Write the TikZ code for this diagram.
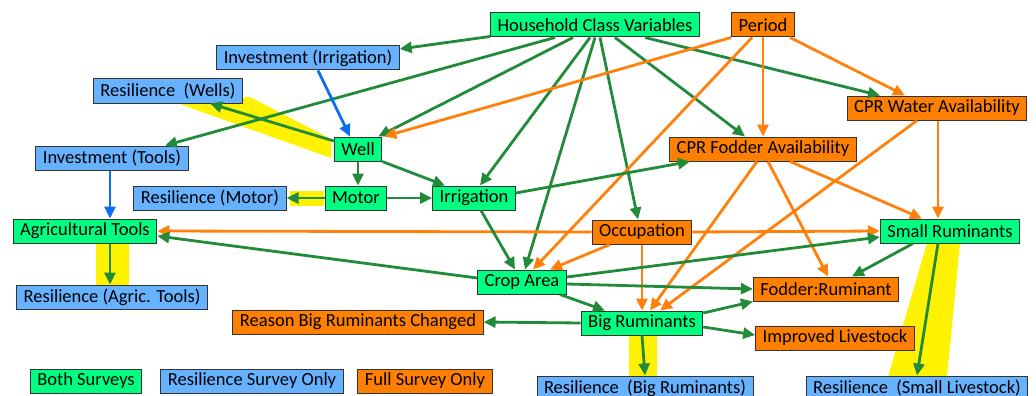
\documentclass[tikz,border=0pt]{standalone}
\usepackage{fontspec}
\setmainfont{Carlito}
\usetikzlibrary{arrows.meta, positioning}
\definecolor{boxgreen}{RGB}{0,255,128}
\definecolor{boxblue}{RGB}{102,178,255}
\definecolor{boxorange}{RGB}{255,128,0}
\definecolor{arrowgreen}{RGB}{34,139,58}
\definecolor{arrowblue}{RGB}{10,110,240}
\definecolor{arroworange}{RGB}{255,128,10}
\definecolor{marker}{RGB}{255,242,0}

\begin{document}
\begin{tikzpicture}[x=1pt, y=-1pt, font=\fontsize{18.5}{20}\selectfont]
	\tikzstyle{bothbox} = [rectangle, minimum height=24pt, inner xsep=7pt, 
	inner ysep=0pt, text centered, draw=black!80, line width=1pt, fill=boxgreen]
	\tikzstyle{resbox} = [rectangle, minimum height=24pt, inner xsep=7pt, 
	inner ysep=0pt, text centered, draw=black!80, line width=1pt, fill=boxblue]
	\tikzstyle{fullbox} = [rectangle, minimum height=24pt, inner xsep=7pt, 
	inner ysep=0pt, text centered, draw=black!80, line width=1pt, fill=boxorange]
	\tikzstyle{greenarrow} = [line width=2.8pt, draw=arrowgreen, 
	-{Triangle[length=12pt, width=11pt]}]
	\tikzstyle{orangearrow} = [line width=2.8pt, draw=arroworange, 
	-{Triangle[length=12pt, width=11pt]}]
	\tikzstyle{bluearrow} = [line width=2.8pt, draw=arrowblue, 
	-{Triangle[length=12pt, width=11pt]}]
	\useasboundingbox (0,0) rectangle (1036,396);
	\fill [marker] (177,103) -- (250,97) -- (331,139) -- (331,158) -- cycle;
	\fill [marker] (290,191) rectangle (324,206);
	\fill [marker] (96,243) rectangle (129,286);
	\fill [marker] (629,335) rectangle (657,377);
	\fill [marker] (927,243) -- (960,243) -- (947,377) -- (888,377) -- cycle;
	\node (household) [bothbox] at (595,25) {Household Class Variables};
	\node (period) [fullbox] at (763,25) {Period};
	\node (invIrrigation) [resbox] at (308,58) {Investment (Irrigation)};
	\node (resWells) [resbox] at (168,91) {Resilience\ \ (Wells)};
	\node (cprWater) [fullbox] at (937,108) {CPR Water Availability};
	\node (well) [bothbox] at (358,149) {Well};
	\node (invTools) [resbox] at (112,158) {Investment (Tools)};
	\node (cprFodder) [fullbox] at (763,149) {CPR Fodder Availability};
	\node (resMotor) [resbox] at (210,198) {Resilience (Motor)};
	\node (motor) [bothbox] at (356,198) {Motor};
	\node (irrigation) [bothbox] at (474,198) {Irrigation};
	\node (agTools) [bothbox] at (85,231) {Agricultural Tools};
	\node (occupation) [fullbox] at (642,232) {Occupation};
	\node (smallRum) [bothbox] at (950,231) {Small Ruminants};
	\node (cropArea) [bothbox] at (522,282) {Crop Area};
	\node (resAgTools) [resbox] at (112,297) {Resilience (Agric. Tools)};
	\node (fodderRum) [fullbox] at (826,289) {Fodder:Ruminant};
	\node (reasonBig) [fullbox] at (358,322) {Reason Big Ruminants Changed};
	\node (bigRum) [bothbox] at (642,323) {Big Ruminants};
	\node (improved) [fullbox] at (835,338) {Improved Livestock};
	\node (resBigRum) [resbox] at (645,388) {Resilience\ \ (Big Ruminants)};
	\node (resSmall) [resbox] at (917,388) {Resilience\ \ (Small Livestock)};
	\node (legendBoth) [bothbox] at (86,381) {Both Surveys};
	\node (legendRes) [resbox] at (252,381) {Resilience Survey Only};
	\node (legendFull) [fullbox] at (425,381) {Full Survey Only};
	\draw [greenarrow] ([yshift=1]household.south west) -- ([yshift=9]invIrrigation.east);
	\draw [greenarrow] ([xshift=-40]household.south) -- ([xshift=53]invTools.north);
	\draw [greenarrow] ([xshift=-22]household.south) -- ([xshift=-4]well.north east);
	\draw [greenarrow] ([xshift=-5]household.south) -- ([xshift=6]irrigation.north);
	\draw [greenarrow] (household.south) -- ([xshift=3]cropArea.north);
	\draw [greenarrow] ([xshift=5]household.south) -- ([xshift=-4]occupation.north);
	\draw [greenarrow] ([xshift=20]household.south) -- ([xshift=-18]cprFodder.north);
	\draw [greenarrow] ([xshift=50]household.south) -- ([xshift=-57]cprWater.north);
	\draw [orangearrow] (period.south west) -- ([xshift=2]well.north east);
	\draw [orangearrow] ([xshift=-11]period.south) -- ([xshift=11]cropArea.north);
	\draw [orangearrow] (period.south) -- (cprFodder.north);
	\draw [orangearrow] ([xshift=27]period.south) -- ([xshift=-32]cprWater.north);
	\draw [orangearrow] ([xshift=-20]cprWater.south) -- ([xshift=18]bigRum.north);
	\draw [orangearrow] ([xshift=1]cprWater.south) -- ([xshift=-12]smallRum.north);
	\draw [orangearrow] ([xshift=-6]cprFodder.south) -- ([xshift=8]bigRum.north);
	\draw [orangearrow] ([xshift=5]cprFodder.south) -- ([xshift=2]fodderRum.north);
	\draw [orangearrow] ([xshift=27]cprFodder.south) -- ([xshift=-28]smallRum.north);
	\draw [orangearrow] (occupation.west) -- (agTools.east);
	\draw [orangearrow] (occupation.east) -- (smallRum.west);
	\draw [orangearrow] ([xshift=-32]occupation.south) -- ([xshift=28]cropArea.north);
	\draw [orangearrow] (occupation.south) -- (bigRum.north);
	\draw [bluearrow] ([xshift=10]invIrrigation.south) -- ([xshift=-8]well.north);
	\draw [bluearrow] ([xshift=-2]invTools.south) -- ([xshift=25]agTools.north);
	\draw [greenarrow] ([yshift=8]well.west) -- ([xshift=42]resWells.south);
	\draw [greenarrow] (well.south) -- ([xshift=2]motor.north);
	\draw [greenarrow] (well.south east) -- ([xshift=-29]irrigation.north);
	\draw [greenarrow] (motor.west) -- (resMotor.east);
	\draw [greenarrow] (motor.east) -- (irrigation.west);
	\draw [greenarrow] ([yshift=5]irrigation.east) -- ([xshift=-73]cprFodder.south);
	\draw [greenarrow] ([xshift=7]irrigation.south) -- ([xshift=-7]cropArea.north);
	\draw [greenarrow] ([yshift=4]cropArea.west) -- ([yshift=-5]agTools.east);
	\draw [greenarrow] ([yshift=5]cropArea.east) -- ([yshift=-6]smallRum.west);
	\draw [greenarrow] ([yshift=-2]cropArea.east) -- (fodderRum.west);
	\draw [greenarrow] ([xshift=38]cropArea.south) -- ([xshift=-37]bigRum.north);
	\draw [greenarrow] (bigRum.west) -- (reasonBig.east);
	\draw [greenarrow] ([yshift=10]bigRum.east) -- (fodderRum.south west);
	\draw [greenarrow] ([yshift=-4]bigRum.east) -- ([yshift=3]improved.west);
	\draw [greenarrow] (bigRum.south) -- (resBigRum.north);
	\draw [greenarrow] ([xshift=-37]smallRum.south) -- ([xshift=26]fodderRum.north);
	\draw [greenarrow] ([xshift=-12]smallRum.south) -- (resSmall.north);
	\draw [greenarrow] ([xshift=25]agTools.south) -- ([xshift=-2]resAgTools.north);
\end{tikzpicture}
\end{document}
